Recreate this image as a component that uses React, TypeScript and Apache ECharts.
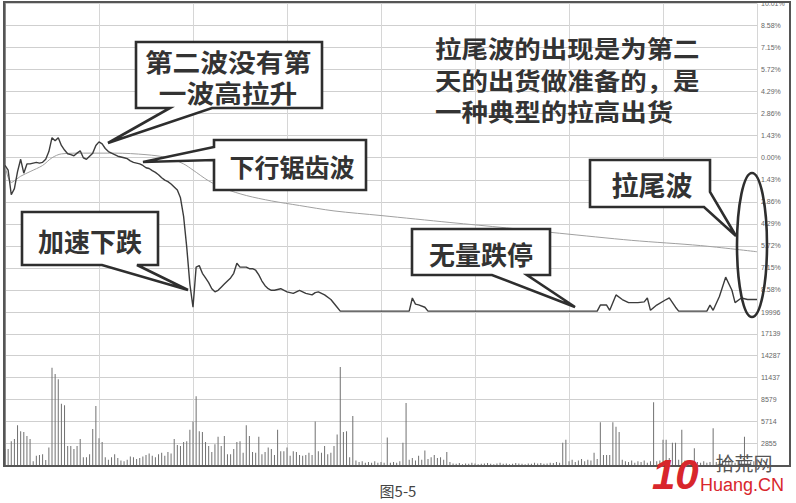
import React, { useEffect, useRef } from 'react';
import * as echarts from 'echarts';

// ---- data ----
const TOTAL_MINUTES = 240;
const PRICE_STEP = 1.43; // % per grid row
const PRICE_LIMIT = 10.01;
const VOL_MAX = 20000;
const VOL_TICK_LABELS = ['', '2855', '5714', '8579', '11437', '14287', '17139', '19996'];

// [minute, % change]
const PRICE: [number, number][] = [
  [0, -0.5], [1, -0.8], [2, -2.4], [3, -2.0], [4, -0.9], [5, -0.1], [6, -1.0], [7, -0.4], [8, -0.4], [9, -0.35],
  [10, -0.3], [11, -0.35], [12, -0.3], [13, -0.1], [14, 0.4], [15, 1.3], [16, 1.1], [17, 1.3], [18, 0.8], [19, 0.5],
  [20, 0.26], [21, 0.2], [22, 0.13], [23, 0.3], [24, 0.45], [25, 0.0], [26, -0.1], [27, 0.1], [28, 0.3], [29, 0.8],
  [30, 1.03], [31, 0.9], [32, 0.6], [33, 0.4], [34, 0.3], [35, 0.2], [36, 0.1], [37, 0.05], [38, 0.0], [39, -0.06],
  [40, -0.2], [41, -0.3], [42, -0.35], [43, -0.4], [44, -0.5], [45, -0.65], [46, -0.7], [47, -0.84], [48, -0.95], [49, -1.1],
  [50, -1.3], [51, -1.45], [52, -1.55], [53, -1.7], [54, -1.9], [55, -2.1], [56, -2.6], [57, -3.8], [58, -5.8], [59, -8.2],
  [60, -9.7], [61, -7.1], [62, -7.0], [63, -7.5], [64, -7.8], [65, -8.1], [66, -8.5], [67, -8.7], [68, -8.6], [69, -8.4],
  [70, -8.2], [71, -8.0], [72, -7.8], [73, -7.5], [74, -6.85], [75, -7.1], [76, -7.1], [77, -7.1], [78, -7.2], [79, -7.2],
  [80, -7.3], [81, -7.6], [82, -8.0], [83, -8.3], [84, -8.5], [85, -8.6], [86, -8.6], [88, -8.5], [90, -8.7], [92, -8.8],
  [94, -8.6], [96, -8.8], [98, -8.9], [99, -8.75], [100, -8.7], [102, -8.9], [104, -9.2], [106, -9.7], [107, -9.95],
  [129, -9.95], [130, -9.1], [131, -9.5], [132, -9.55], [134, -9.7], [135, -9.95],
  [189, -9.95], [190, -9.56], [192, -9.56], [193, -9.9], [195, -8.9], [197, -9.2], [199, -9.4], [202, -9.4], [204, -9.35],
  [205, -9.1], [206, -9.9], [208, -9.56], [211, -9.2], [212, -9.1], [214, -9.7], [215, -9.95],
  [224, -9.95], [225, -9.56], [226, -9.9], [228, -9.0], [230, -7.75], [232, -8.6], [233, -9.4], [235, -9.1], [237, -9.2], [240, -9.2],
];

// [minute, % change] average price line
const AVG_PRICE: [number, number][] = [
  [0, -0.5], [2, -1.6], [5, -1.2], [8, -0.9], [12, -0.5], [15, 0.0], [18, 0.25], [25, 0.3], [35, 0.3], [45, 0.2],
  [52, 0.0], [57, -0.4], [60, -0.8], [65, -1.5], [70, -2.0], [77, -2.45], [85, -2.8], [94, -3.1], [105, -3.45],
  [120, -3.75], [142, -4.2], [160, -4.55], [177, -4.9], [200, -5.36], [222, -5.7], [240, -6.1],
];

// volume per minute, minutes 0..240
const VOLUME: number[] = [
  2100, 2100, 3100, 3400, 5200, 4400, 4300, 3800, 3400, 500,
  1200, 1300, 1400, 650, 2300, 12700, 11900, 11200, 8000, 7800,
  2500, 2500, 2100, 2500, 3400, 1000, 1000, 1400, 4700, 7700,
  3500, 3000, 1000, 700, 1000, 1400, 900, 600, 500, 700,
  1100, 1000, 800, 900, 1100, 1300, 1500, 1200, 1000, 1400,
  1600, 1200, 1700, 1500, 3400, 2600, 2500, 3000, 3100, 4600,
  5700, 9000, 4400, 4300, 3000, 2500, 1700, 2700, 3700, 2500,
  3800, 1400, 1400, 2100, 3000, 3100, 1600, 5200, 3800, 1700,
  1600, 3700, 1400, 1700, 2300, 2100, 1300, 4600, 1800, 1800,
  2300, 1200, 1800, 1700, 1300, 1200, 1300, 1600, 1300, 5700,
  1800, 1600, 2500, 1400, 1600, 2500, 4000, 12800, 4300, 4400,
  1000, 6400, 600, 400, 500, 300, 400, 300, 500, 300,
  400, 300, 3600, 300, 400, 300, 500, 2900, 8100, 700,
  900, 600, 1200, 700, 1900, 800, 1000, 1300, 900, 1000,
  700, 1700, 400, 200, 150, 250, 100, 200, 150, 300,
  200, 100, 150, 200, 250, 150, 100, 200, 300, 150,
  200, 100, 150, 250, 200, 150, 100, 200, 150, 300,
  200, 250, 150, 200, 300, 250, 400, 300, 2900, 3300,
  500, 700, 400, 600, 800, 500, 700, 600, 1600, 800,
  5600, 1300, 1300, 1300, 5600, 5000, 4300, 700, 500, 400,
  600, 300, 500, 400, 600, 300, 500, 8200, 500, 600,
  3300, 3300, 900, 2900, 2900, 700, 4600, 600, 500, 500,
  2200, 400, 300, 500, 300, 400, 4800, 400, 500, 600,
  900, 700, 400, 300, 500, 600, 3700, 600, 400, 500,
  800,
];

const CALLOUT_TEXTS = {
  secondWave: ['第二波没有第', '一波高拉升'],
  sawtooth: '下行锯齿波',
  accel: '加速下跌',
  noVolume: '无量跌停',
  tail: '拉尾波',
};
const NOTE_LINES = ['拉尾波的出现是为第二', '天的出货做准备的，是', '一种典型的拉高出货'];
const CAPTION = '图5-5';

const CJK = '"Noto Sans CJK SC", "Noto Sans", sans-serif';
const INK = '#2e2e2e';

function calloutPoly(points: number[][]) {
  return {
    type: 'polygon',
    shape: { points },
    style: { fill: '#ffffff', stroke: INK, lineWidth: 2.6, lineJoin: 'miter' },
    z: 10,
  };
}

function label(text: string, x: number, y: number, size = 25, align = 'center', sx = 1, sy = 1) {
  return {
    type: 'text',
    x,
    y,
    scaleX: sx,
    scaleY: sy,
    z: 11,
    style: {
      text,
      fontSize: size,
      lineHeight: size,
      fontWeight: 'bold',
      fontFamily: CJK,
      fill: '#333333',
      align,
      verticalAlign: 'middle',
    },
  };
}

export default function App() {
  const ref = useRef<HTMLDivElement>(null);

  useEffect(() => {
    if (!ref.current) return;
    const chart = echarts.init(ref.current, null, { renderer: 'svg' });
    const volStep = VOL_MAX / 7;

    const option: any = {
      animation: false,
      backgroundColor: '#ffffff',
      grid: [
        { left: 5, right: 39, top: 2, height: 310 },
        { left: 5, right: 39, top: 312, height: 153 },
      ],
      xAxis: [0, 1].map((g) => ({
        type: 'value',
        gridIndex: g,
        min: 0,
        max: TOTAL_MINUTES,
        interval: 30,
        axisLine: { show: false },
        axisTick: { show: false },
        axisLabel: { show: false },
        splitLine: { show: true, lineStyle: { color: '#d6d6d6', width: 1 } },
      })),
      yAxis: [
        {
          type: 'value',
          gridIndex: 0,
          position: 'right',
          min: -PRICE_LIMIT,
          max: PRICE_LIMIT,
          interval: PRICE_STEP,
          axisLine: { show: true, lineStyle: { color: '#8a8a8a', width: 1 } },
          axisTick: { show: false },
          splitLine: { show: true, lineStyle: { color: '#cfcfcf', width: 1 } },
          axisLabel: {
            fontSize: 7,
            color: '#666',
            margin: 4,
            showMinLabel: true,
            showMaxLabel: true,
            formatter: (v: number) => {
              if (v < -PRICE_LIMIT + 0.1) return '';
              const a = Math.abs(v);
              return (a < 0.005 ? 0 : a).toFixed(2) + '%';
            },
          },
        },
        {
          type: 'value',
          gridIndex: 1,
          position: 'right',
          min: 0,
          max: VOL_MAX,
          interval: volStep,
          axisLine: { show: true, lineStyle: { color: '#8a8a8a', width: 1 } },
          axisTick: { show: false },
          splitLine: { show: true, lineStyle: { color: '#cfcfcf', width: 1 } },
          axisLabel: {
            fontSize: 7,
            color: '#666',
            margin: 4,
            showMaxLabel: true,
            formatter: (v: number) => VOL_TICK_LABELS[Math.round(v / volStep)] || '',
          },
        },
      ],
      series: [
        {
          type: 'line',
          xAxisIndex: 0,
          yAxisIndex: 0,
          data: AVG_PRICE,
          smooth: 0.3,
          symbol: 'none',
          lineStyle: { color: '#a0a0a0', width: 1 },
          z: 3,
        },
        {
          type: 'line',
          xAxisIndex: 0,
          yAxisIndex: 0,
          data: PRICE,
          symbol: 'none',
          lineStyle: { color: '#3c3c3c', width: 1.4 },
          z: 4,
        },
        {
          type: 'bar',
          xAxisIndex: 1,
          yAxisIndex: 1,
          data: VOLUME.map((v, i) => [i, v]),
          barWidth: 1,
          itemStyle: { color: '#707070' },
        },
      ],
      graphic: [
        // outer frame
        {
          type: 'rect',
          shape: { x: 4, y: 2, width: 786, height: 464 },
          style: { fill: 'none', stroke: '#555', lineWidth: 2 },
          z: 20,
        },
        // callouts
        calloutPoly([[136, 42], [322, 42], [322, 108], [212, 108], [108, 143], [170, 108], [136, 108]]),
        label(CALLOUT_TEXTS.secondWave[0], 228, 61, 21, 'center', 1.32, 1.2),
        label(CALLOUT_TEXTS.secondWave[1], 228, 92, 21, 'center', 1.32, 1.2),
        calloutPoly([[214, 140], [366, 140], [366, 190], [214, 190], [214, 160], [143, 162], [214, 147]]),
        label(CALLOUT_TEXTS.sawtooth, 292, 166, 25),
        calloutPoly([[22, 212], [158, 212], [158, 265], [137, 265], [188, 290], [102, 265], [22, 265]]),
        label(CALLOUT_TEXTS.accel, 90, 240, 26),
        calloutPoly([[412, 229], [550, 229], [550, 275], [527, 275], [575, 307], [492, 275], [412, 275]]),
        label(CALLOUT_TEXTS.noVolume, 481, 253, 26),
        calloutPoly([[590, 160], [710, 160], [710, 192], [736, 236], [704, 207], [590, 207]]),
        label(CALLOUT_TEXTS.tail, 652, 184, 27),
        // ellipse around tail
        {
          type: 'ellipse',
          shape: { cx: 752, cy: 245, rx: 15, ry: 72 },
          style: { fill: 'none', stroke: INK, lineWidth: 2.6 },
          z: 12,
        },
        // note
        label(NOTE_LINES[0], 435, 48, 21, 'left', 1.26, 1.15),
        label(NOTE_LINES[1], 435, 80, 21, 'left', 1.26, 1.15),
        label(NOTE_LINES[2], 435, 111, 21, 'left', 1.26, 1.15),
        // caption
        {
          type: 'text',
          x: 398,
          y: 490,
          style: {
            text: CAPTION,
            fontSize: 15,
            lineHeight: 15,
            fontFamily: CJK,
            fill: '#444',
            align: 'center',
            verticalAlign: 'middle',
          },
        },
        // watermark
        {
          type: 'text',
          x: 652,
          y: 474,
          style: {
            text: '10',
            fontSize: 42,
            lineHeight: 42,
            fontWeight: 'bold',
            fontStyle: 'italic',
            fontFamily: 'Arial, "Liberation Sans", sans-serif',
            fill: '#d8262c',
            align: 'left',
            verticalAlign: 'middle',
          },
          z: 21,
        },
        {
          type: 'text',
          x: 744,
          y: 462,
          style: {
            text: '拾荒网',
            fontSize: 19,
            lineHeight: 19,
            fontFamily: CJK,
            fill: '#555',
            align: 'center',
            verticalAlign: 'middle',
          },
          z: 21,
        },
        {
          type: 'text',
          x: 742,
          y: 485,
          style: {
            text: 'Huang.CN',
            fontSize: 18,
            lineHeight: 18,
            fontFamily: '"Liberation Sans", Arial, sans-serif',
            fill: '#d8262c',
            align: 'center',
            verticalAlign: 'middle',
          },
          z: 21,
        },
      ],
    };

    chart.setOption(option);
    return () => chart.dispose();
  }, []);

  return (
    <div
      ref={ref}
      style={{ position: 'fixed', left: 0, top: 0, width: 796, height: 503, background: '#fff' }}
    />
  );
}
